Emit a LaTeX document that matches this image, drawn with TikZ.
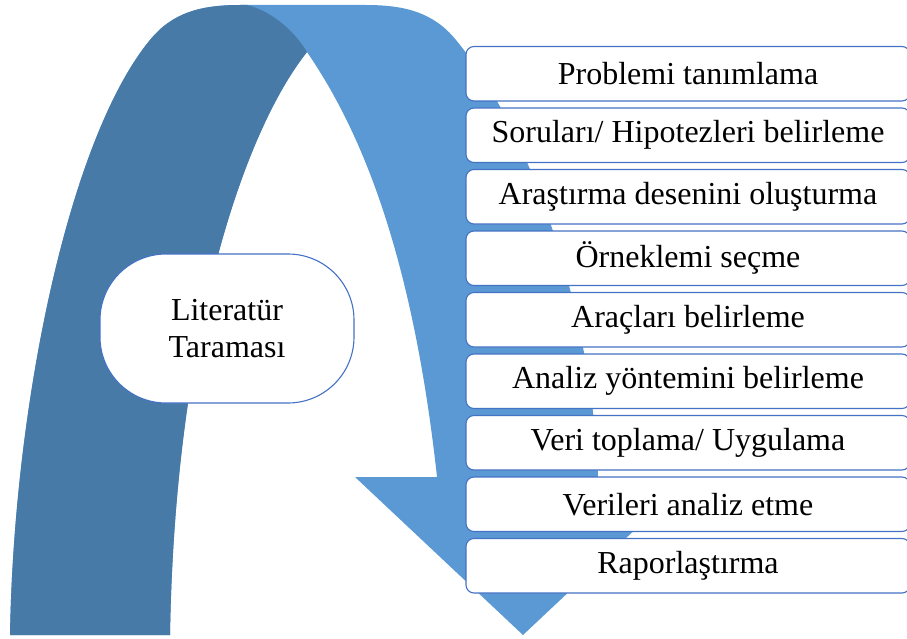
\documentclass[tikz,border=0pt]{standalone}
\usepackage{fontspec}
\setmainfont{Liberation Serif}
\definecolor{lightarrow}{HTML}{5A99D4}
\definecolor{darkarrow}{HTML}{487AA8}
\definecolor{boxline}{HTML}{4472C4}
\def\arrowoutline{(10,635) .. controls (14,400) and (70,137) .. (150,40)
  .. controls (172,13) and (200,5) .. (240,5) -- (366,5)
  .. controls (406,5) and (434,13) .. (456,40)
  .. controls (530,130) and (592,310) .. (598,477)
  -- (691,477) -- (523,635) -- (355,477) -- (437,477)
  .. controls (410,230) and (350,115) .. (307,52)
  .. controls (245,130) and (175,330) .. (170,635) -- cycle}
\tikzset{
  stepbox/.style={draw=boxline, fill=white, line width=1.1pt, rounded corners=8pt,
    minimum width=444pt, minimum height=54.5pt, inner sep=0pt,
    font=\fontsize{32}{38}\selectfont},
  litbox/.style={draw=boxline, fill=white, line width=1.1pt, rounded corners=66pt,
    minimum width=254pt, minimum height=149pt, inner sep=0pt, align=center,
    font=\fontsize{32}{37}\selectfont}
}
\begin{document}
\begin{tikzpicture}[x=1pt,y=-1pt]
\useasboundingbox (0,0) rectangle (907,639);
% arrow
\fill[lightarrow] \arrowoutline;
\begin{scope}
  \clip \arrowoutline;
  \fill[darkarrow] (-5,645) -- (-5,-5) -- (240,-5) -- (247,5)
    .. controls (275,12) and (297,35) .. (307,52) -- (307,645) -- cycle;
\end{scope}
% central node
\node[litbox] (lit) at (227,328.5) {Literatür\\Taraması};
% steps
\node[stepbox] (b1) at (688,73.75) {Problemi tanımlama};
\node[stepbox] (b2) at (688,135.25) {Soruları/ Hipotezleri belirleme};
\node[stepbox] (b3) at (688,196.75) {Araştırma desenini oluşturma};
\node[stepbox] (b4) at (688,258.25) {Örneklemi seçme};
\node[stepbox] (b5) at (688,319.75) {Araçları belirleme};
\node[stepbox] (b6) at (688,381.25) {Analiz yöntemini belirleme};
\node[stepbox] (b7) at (688,442.75) {Veri toplama/ Uygulama};
\node[stepbox] (b8) at (688,504.25) {Verileri analiz etme};
\node[stepbox] (b9) at (688,565.75) {Raporlaştırma};
\end{tikzpicture}
\end{document}
